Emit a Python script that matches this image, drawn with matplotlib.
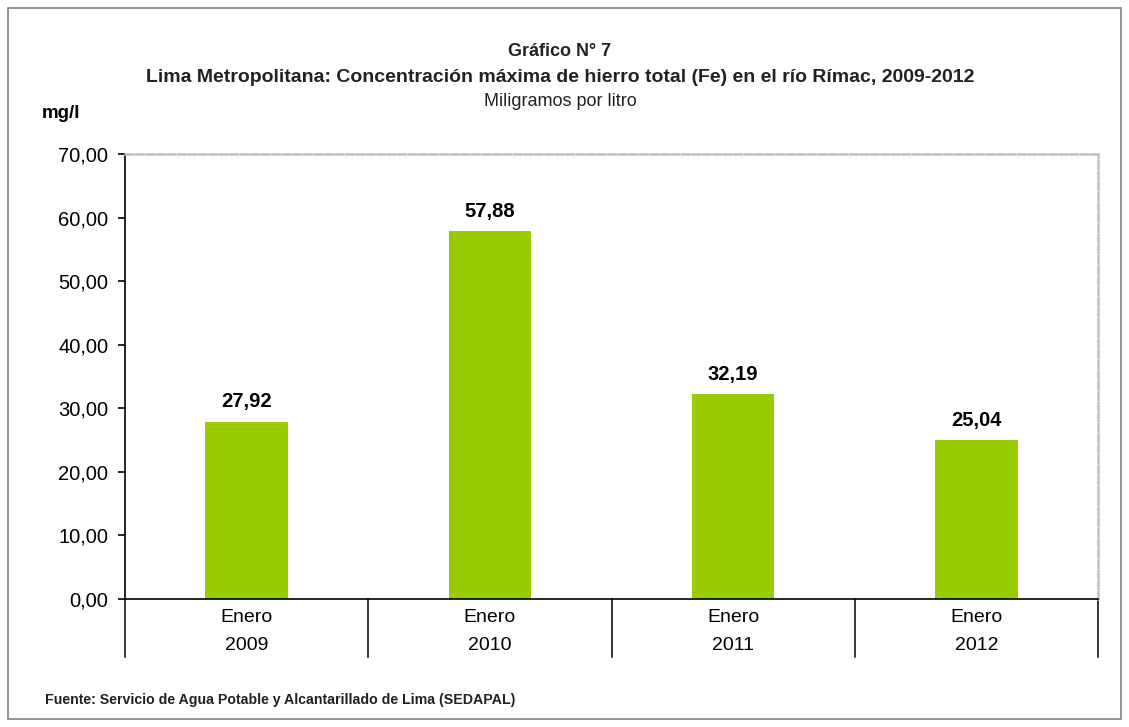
import matplotlib.pyplot as plt
import matplotlib.transforms as mtransforms
from matplotlib.patches import Rectangle

plt.rcParams['font.family'] = ['Liberation Sans', 'DejaVu Sans']

# datos
categorias = ['Enero\n2009', 'Enero\n2010', 'Enero\n2011', 'Enero\n2012']
valores = [27.92, 57.88, 32.19, 25.04]
etiquetas = ['27,92', '57,88', '32,19', '25,04']
yticks = [0, 10, 20, 30, 40, 50, 60, 70]

fig = plt.figure(figsize=(11.29, 7.27), dpi=100)
ax = fig.add_axes([125 / 1129, 1 - 599 / 727, (1098 - 125) / 1129, (599 - 154) / 727])

x = range(len(valores))
ax.bar(x, valores, width=0.34, color='#99CC00', zorder=2)
for i, v in enumerate(valores):
    ax.text(i, v + 1.6, etiquetas[i], ha='center', va='bottom',
            fontsize=14.5, fontweight='bold', color='black')

ax.set_xlim(-0.5, len(valores) - 0.5)
ax.set_ylim(0, 70)
ax.set_yticks(yticks)
ax.set_yticklabels(['%d,00' % t for t in yticks], fontsize=14.5)
ax.set_xticks(list(x))
ax.set_xticklabels(categorias, fontsize=14, linespacing=1.9)
ax.tick_params(axis='x', length=0, pad=7)
ax.tick_params(axis='y', length=5, width=1.2, direction='out', pad=7)

for s in ['top', 'right']:
    ax.spines[s].set_color('#c0c0c0')
    ax.spines[s].set_linestyle((0, (3, 1.2)))
    ax.spines[s].set_linewidth(1.8)
ax.spines['left'].set_color('black')
ax.spines['left'].set_linewidth(1.2)
ax.spines['bottom'].set_color('black')
ax.spines['bottom'].set_linewidth(1.2)

# separadores de categoria bajo el eje
trans = mtransforms.blended_transform_factory(ax.transData, ax.transAxes)
for b in [-0.5, 0.5, 1.5, 2.5, 3.5]:
    ax.plot([b, b], [0, -0.13], color='black', lw=1.1, transform=trans, clip_on=False)

# titulos
fig.text(560 / 1129, 1 - 52 / 727, 'Gráfico N° 7', ha='center', va='center',
         fontsize=13, fontweight='bold', color='#222222')
fig.text(560 / 1129, 1 - 77 / 727,
         'Lima Metropolitana: Concentración máxima de hierro total (Fe) en el río Rímac, 2009-2012',
         ha='center', va='center', fontsize=14, fontweight='bold', color='#222222')
fig.text(560 / 1129, 1 - 101 / 727, 'Miligramos por litro', ha='center', va='center',
         fontsize=13, color='#222222')
fig.text(42 / 1129, 1 - 114 / 727, 'mg/l', ha='left', va='center',
         fontsize=13.5, fontweight='bold')
fig.text(45 / 1129, 1 - 700 / 727,
         'Fuente: Servicio de Agua Potable y Alcantarillado de Lima (SEDAPAL)',
         ha='left', va='center', fontsize=10.2, fontweight='bold', color='#222222')

# borde exterior
fig.patches.append(Rectangle((8 / 1129, 8 / 727), 1113 / 1129, 711 / 727,
                             transform=fig.transFigure, fill=False,
                             edgecolor='#808080', lw=1.2))

plt.savefig('out.png', dpi=100)
